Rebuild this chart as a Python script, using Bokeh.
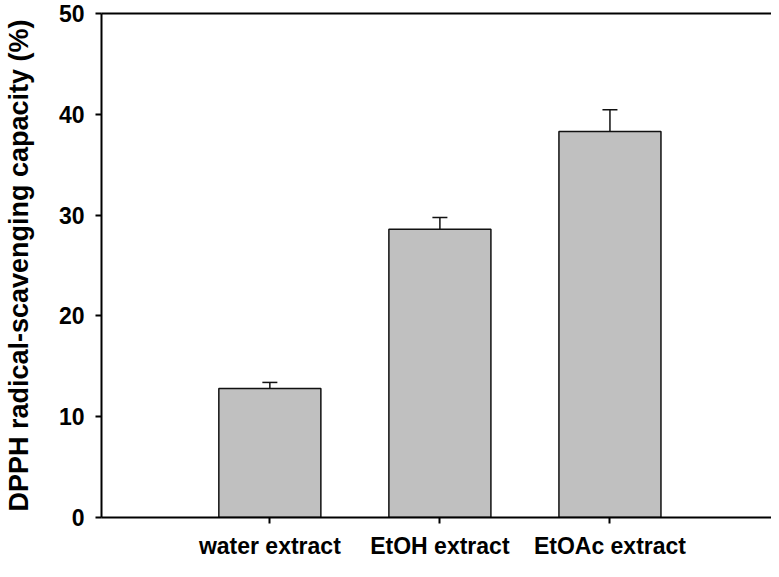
from bokeh.plotting import figure
from bokeh.models import ColumnDataSource, Range1d, FixedTicker, LinearAxis, Whisker, TeeHead
from bokeh.embed import file_html
from bokeh.resources import INLINE

categories = ["water extract", "EtOH extract", "EtOAc extract"]
values = [12.8, 28.6, 38.3]
errors = [0.6, 1.15, 2.15]
y_ticks = [0, 10, 20, 30, 40, 50]

xs = list(range(len(categories)))
upper = [v + e for v, e in zip(values, errors)]
src = ColumnDataSource(data=dict(x=xs, top=values, upper=upper, cat=categories))

FONT = "Liberation Sans"

p = figure(width=771, height=561, output_backend="svg", toolbar_location=None,
           x_range=Range1d(-0.99, 2.95), y_range=Range1d(0, 50),
           min_border_left=97, min_border_right=0, min_border_top=13, min_border_bottom=41,
           outline_line_color=None, background_fill_color="white", border_fill_color="white")
p.xgrid.visible = False
p.ygrid.visible = False

p.vbar(x="x", top="top", width=0.6, bottom=0, source=src,
       fill_color="#c0c0c0", line_color="#111111", line_width=1.5)

w = Whisker(base="x", lower="top", upper="upper", source=src, dimension="height",
            line_color="#111111", line_width=1.5,
            upper_head=TeeHead(size=15, line_color="#111111", line_width=1.5),
            lower_head=None)
p.add_layout(w)

# x axis
xa = p.xaxis[0]
xa.ticker = FixedTicker(ticks=xs)
xa.major_label_overrides = {i: c for i, c in zip(xs, categories)}
xa.minor_tick_line_color = None
xa.major_tick_in = 0
xa.major_tick_out = 6
xa.major_tick_line_width = 2
xa.axis_line_width = 2
xa.major_label_text_font = FONT
xa.major_label_text_font_style = "bold"
xa.major_label_text_font_size = "23px"
xa.major_label_text_color = "black"
xa.major_label_standoff = 9

# y axis
ya = p.yaxis[0]
ya.ticker = FixedTicker(ticks=y_ticks)
ya.minor_tick_line_color = None
ya.major_tick_in = 0
ya.major_tick_out = 6
ya.major_tick_line_width = 2
ya.axis_line_width = 2
ya.major_label_text_font = FONT
ya.major_label_text_font_style = "bold"
ya.major_label_text_font_size = "23px"
ya.major_label_text_color = "black"
ya.major_label_standoff = 11
ya.axis_label = "DPPH radical-scavenging capacity (%)"
ya.axis_label_text_font = FONT
ya.axis_label_text_font_style = "bold"
ya.axis_label_text_font_size = "27px"
ya.axis_label_text_color = "black"
ya.axis_label_standoff = 22

# top frame line
top = LinearAxis(ticker=FixedTicker(ticks=[]), major_label_text_font_size="0px",
                 major_tick_line_color=None, minor_tick_line_color=None,
                 axis_line_width=2, axis_line_color="black")
p.add_layout(top, "above")

open("out.html", "w").write(file_html(p, INLINE))
